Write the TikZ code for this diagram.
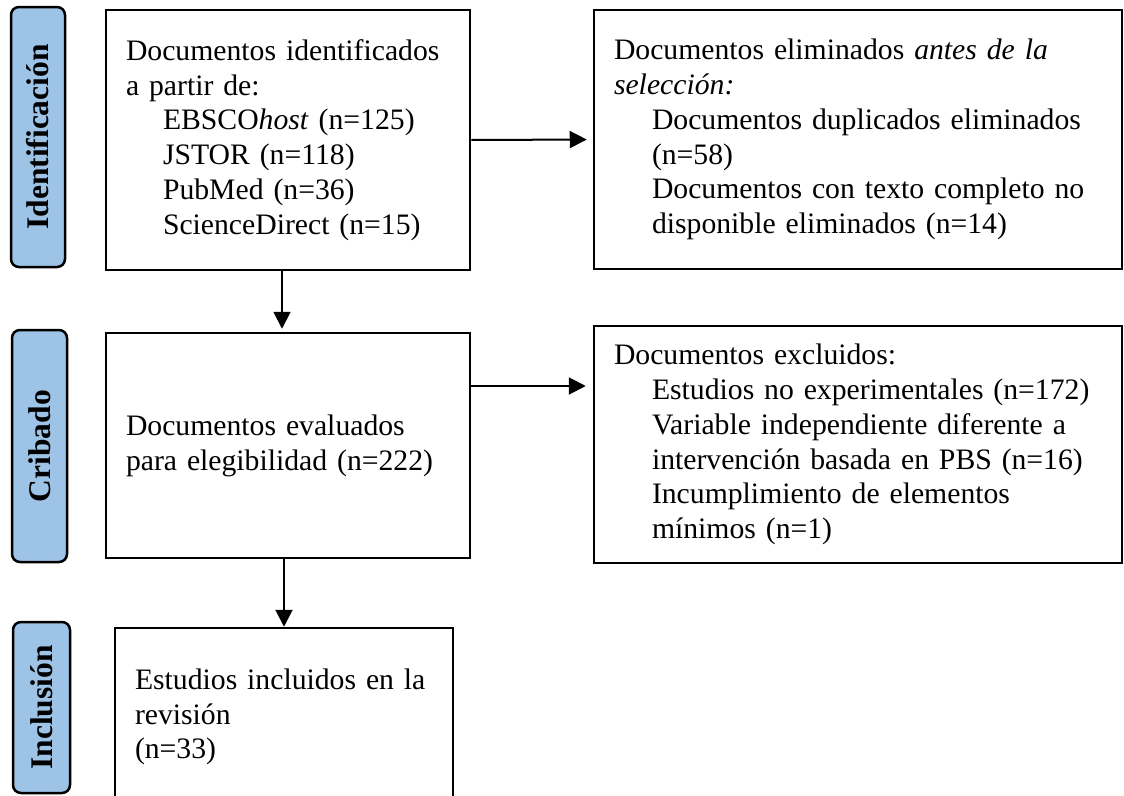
\documentclass[tikz,border=0pt]{standalone}
\usepackage{fontspec}
\setmainfont{Liberation Serif}
\usetikzlibrary{arrows.meta}
\definecolor{labelblue}{RGB}{157,195,230}
\newcommand\mybodyfont{\fontsize{29.7}{34.8}\selectfont}
\newcommand\mylabelfont{\fontsize{31.5}{34}\selectfont\bfseries}
\begin{document}
\begin{tikzpicture}[x=1pt,y=-1pt,
  box/.style={draw, line width=2.5pt, inner xsep=20pt, inner ysep=0pt, align=left, font=\mybodyfont},
  lab/.style={draw, line width=2.5pt, rounded corners=8pt, fill=labelblue, font=\mylabelfont, rotate=90, inner sep=0pt},
  arr/.style={line width=2pt, -{Triangle[length=17pt,width=17pt]}}]
\useasboundingbox (0,0) rectangle (1124,795);
\clip (0,0) rectangle (1124,795);
% phase labels
\node[lab, minimum width=260, minimum height=54] (l1) at (38,137) {Identificación};
\node[lab, minimum width=232, minimum height=55] (l2) at (39.5,446) {Cribado};
\node[lab, minimum width=171, minimum height=57] (l3) at (41.5,707.5) {Inclusión};
% boxes
\node[box, minimum width=364, minimum height=260, text width=324] (b1) at (288,140)
 {Documentos identificados\\
  a partir de:\\
  \hspace*{37pt}EBSCO\textit{host} (n=125)\\
  \hspace*{37pt}JSTOR (n=118)\\
  \hspace*{37pt}PubMed (n=36)\\
  \hspace*{37pt}ScienceDirect (n=15)};
\node[box, minimum width=528, minimum height=259, text width=488] (b2) at (858,139.5)
 {Documentos eliminados \textit{antes de la}\\
  \textit{selección:}\\
  \hspace*{38pt}Documentos duplicados eliminados\\
  \hspace*{38pt}(n=58)\\
  \hspace*{38pt}Documentos con texto completo no\\
  \hspace*{38pt}disponible eliminados (n=14)};
\node[box, minimum width=364, minimum height=225, text width=324] (b3) at (288,445.5)
 {Documentos evaluados\\
  para elegibilidad (n=222)};
\node[box, minimum width=528, minimum height=237, text width=488] (b4) at (858,444.5)
 {Documentos excluidos:\\
  \hspace*{38pt}Estudios no experimentales (n=172)\\
  \hspace*{38pt}Variable independiente diferente a\\
  \hspace*{38pt}intervención basada en PBS (n=16)\\
  \hspace*{38pt}Incumplimiento de elementos\\
  \hspace*{38pt}mínimos (n=1)};
\node[box, minimum width=338, minimum height=178, text width=298] (b5) at (284,717)
 {Estudios incluidos en la\\
  revisión\\
  (n=33)};
% connectors
\draw[arr, shorten >=6pt] (b1.east) -- (b2.west);
\draw[arr, shorten >=7pt] ([yshift=59.5pt]b3.east) -- ([yshift=59.5pt]b3.east -| b4.west);
\draw[arr, shorten >=3pt] ([xshift=-6pt]b1.south) -- ([xshift=-6pt]b1.south |- b3.north);
\draw[arr] (b3.south -| b5.north) -- (b5.north);
\end{tikzpicture}
\end{document}
